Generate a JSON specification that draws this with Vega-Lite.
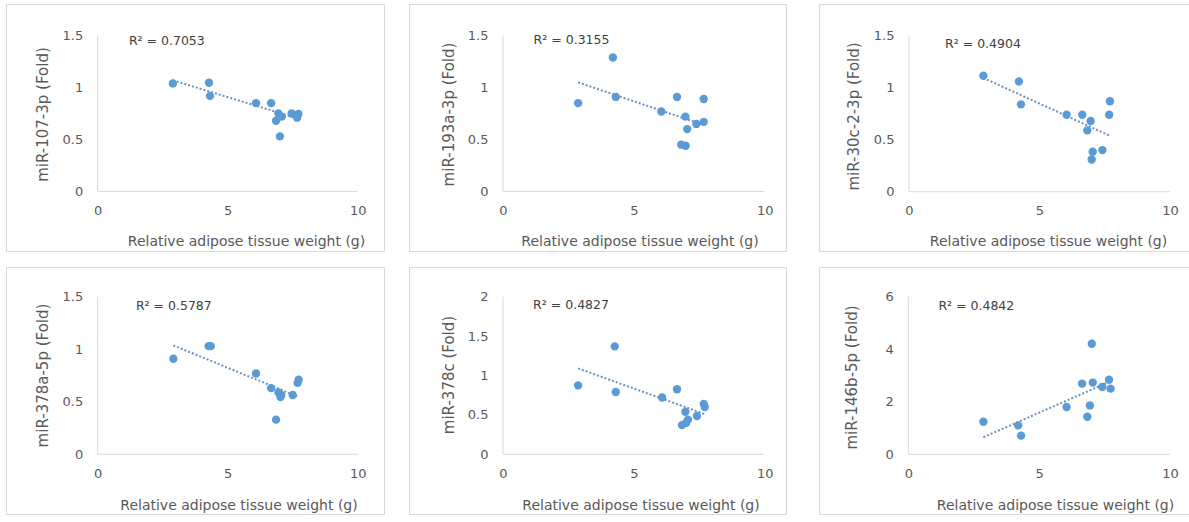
{
"$schema": "https://vega.github.io/schema/vega-lite/v6.json",
"padding": {"left": 5, "top": 3, "right": 0, "bottom": 0},
"background": "white",
"datasets": {
"d": [
{"p":"p1","k":"ax","x":0,"y":0,"x2":10,"y2":0},{"p":"p1","k":"ax","x":0,"y":0,"x2":0,"y2":1.5},
{"p":"p2","k":"ax","x":0,"y":0,"x2":10,"y2":0},{"p":"p2","k":"ax","x":0,"y":0,"x2":0,"y2":1.5},
{"p":"p3","k":"ax","x":0,"y":0,"x2":10,"y2":0},{"p":"p3","k":"ax","x":0,"y":0,"x2":0,"y2":1.5},
{"p":"p4","k":"ax","x":0,"y":0,"x2":10,"y2":0},{"p":"p4","k":"ax","x":0,"y":0,"x2":0,"y2":1.5},
{"p":"p5","k":"ax","x":0,"y":0,"x2":10,"y2":0},{"p":"p5","k":"ax","x":0,"y":0,"x2":0,"y2":2},
{"p":"p6","k":"ax","x":0,"y":0,"x2":10,"y2":0},{"p":"p6","k":"ax","x":0,"y":0,"x2":0,"y2":6},
{"p":"p1","k":"r2","x":1.2,"y":1.45,"t":"R² = 0.7053"},
{"p":"p2","k":"r2","x":1.17,"y":1.46,"t":"R² = 0.3155"},
{"p":"p3","k":"r2","x":1.38,"y":1.42,"t":"R² = 0.4904"},
{"p":"p4","k":"r2","x":1.47,"y":1.41,"t":"R² = 0.5787"},
{"p":"p5","k":"r2","x":1.15,"y":1.89,"t":"R² = 0.4827"},
{"p":"p6","k":"r2","x":1.15,"y":5.65,"t":"R² = 0.4842"},
{"p":"p1","k":"tr","x":2.89,"y":1.07},{"p":"p1","k":"tr","x":7.72,"y":0.70},
{"p":"p2","k":"tr","x":2.87,"y":1.05},{"p":"p2","k":"tr","x":7.67,"y":0.64},
{"p":"p3","k":"tr","x":2.85,"y":1.094},{"p":"p3","k":"tr","x":7.70,"y":0.538},
{"p":"p4","k":"tr","x":2.91,"y":1.037},{"p":"p4","k":"tr","x":7.73,"y":0.546},
{"p":"p5","k":"tr","x":2.87,"y":1.09},{"p":"p5","k":"tr","x":7.71,"y":0.51},
{"p":"p6","k":"tr","x":2.87,"y":0.65},{"p":"p6","k":"tr","x":7.73,"y":2.78},
{"p":"p1","k":"pt","x":2.89,"y":1.04},{"p":"p1","k":"pt","x":4.28,"y":1.047},{"p":"p1","k":"pt","x":4.32,"y":0.92},{"p":"p1","k":"pt","x":6.09,"y":0.85},{"p":"p1","k":"pt","x":6.67,"y":0.85},{"p":"p1","k":"pt","x":6.95,"y":0.75},{"p":"p1","k":"pt","x":6.86,"y":0.68},{"p":"p1","k":"pt","x":7.08,"y":0.72},{"p":"p1","k":"pt","x":7.01,"y":0.53},{"p":"p1","k":"pt","x":7.46,"y":0.75},{"p":"p1","k":"pt","x":7.72,"y":0.745},{"p":"p1","k":"pt","x":7.67,"y":0.71},
{"p":"p2","k":"pt","x":4.20,"y":1.29},{"p":"p2","k":"pt","x":2.87,"y":0.85},{"p":"p2","k":"pt","x":4.31,"y":0.91},{"p":"p2","k":"pt","x":6.65,"y":0.91},{"p":"p2","k":"pt","x":7.67,"y":0.89},{"p":"p2","k":"pt","x":6.05,"y":0.77},{"p":"p2","k":"pt","x":6.97,"y":0.72},{"p":"p2","k":"pt","x":7.04,"y":0.60},{"p":"p2","k":"pt","x":7.39,"y":0.65},{"p":"p2","k":"pt","x":7.67,"y":0.67},{"p":"p2","k":"pt","x":6.81,"y":0.45},{"p":"p2","k":"pt","x":6.98,"y":0.44},
{"p":"p3","k":"pt","x":2.85,"y":1.115},{"p":"p3","k":"pt","x":4.21,"y":1.06},{"p":"p3","k":"pt","x":4.29,"y":0.84},{"p":"p3","k":"pt","x":6.04,"y":0.74},{"p":"p3","k":"pt","x":6.64,"y":0.74},{"p":"p3","k":"pt","x":6.96,"y":0.68},{"p":"p3","k":"pt","x":6.83,"y":0.59},{"p":"p3","k":"pt","x":7.70,"y":0.87},{"p":"p3","k":"pt","x":7.67,"y":0.74},{"p":"p3","k":"pt","x":7.41,"y":0.40},{"p":"p3","k":"pt","x":7.04,"y":0.385},{"p":"p3","k":"pt","x":7.0,"y":0.31},
{"p":"p4","k":"pt","x":2.91,"y":0.91},{"p":"p4","k":"pt","x":4.27,"y":1.03},{"p":"p4","k":"pt","x":4.35,"y":1.03},{"p":"p4","k":"pt","x":6.09,"y":0.77},{"p":"p4","k":"pt","x":6.67,"y":0.63},{"p":"p4","k":"pt","x":6.95,"y":0.59},{"p":"p4","k":"pt","x":7.03,"y":0.545},{"p":"p4","k":"pt","x":7.06,"y":0.565},{"p":"p4","k":"pt","x":7.5,"y":0.565},{"p":"p4","k":"pt","x":7.73,"y":0.71},{"p":"p4","k":"pt","x":7.69,"y":0.68},{"p":"p4","k":"pt","x":6.86,"y":0.33},
{"p":"p5","k":"pt","x":4.27,"y":1.37},{"p":"p5","k":"pt","x":2.87,"y":0.875},{"p":"p5","k":"pt","x":4.31,"y":0.79},{"p":"p5","k":"pt","x":6.08,"y":0.72},{"p":"p5","k":"pt","x":6.65,"y":0.825},{"p":"p5","k":"pt","x":7.67,"y":0.64},{"p":"p5","k":"pt","x":7.71,"y":0.60},{"p":"p5","k":"pt","x":6.97,"y":0.54},{"p":"p5","k":"pt","x":7.41,"y":0.486},{"p":"p5","k":"pt","x":7.07,"y":0.44},{"p":"p5","k":"pt","x":7.0,"y":0.40},{"p":"p5","k":"pt","x":6.84,"y":0.37},
{"p":"p6","k":"pt","x":2.87,"y":1.24},{"p":"p6","k":"pt","x":4.20,"y":1.10},{"p":"p6","k":"pt","x":4.31,"y":0.71},{"p":"p6","k":"pt","x":6.05,"y":1.80},{"p":"p6","k":"pt","x":6.64,"y":2.69},{"p":"p6","k":"pt","x":7.01,"y":4.21},{"p":"p6","k":"pt","x":7.05,"y":2.73},{"p":"p6","k":"pt","x":6.94,"y":1.86},{"p":"p6","k":"pt","x":6.84,"y":1.43},{"p":"p6","k":"pt","x":7.41,"y":2.56},{"p":"p6","k":"pt","x":7.67,"y":2.84},{"p":"p6","k":"pt","x":7.73,"y":2.50}
]
},
"vconcat": [
{"hconcat": [
 {"hconcat": [
  {"width": 378, "height": 247, "data": {"name": "d"}, "transform": [{"filter": "datum.p == 'p1'"}],
   "encoding": {
    "x": {"field": "x", "type": "quantitative", "scale": {"domain": [-3.527, 11.012], "nice": false, "zero": false}, "axis": {"title": "Relative adipose tissue weight (g)", "values": [0,5,10], "offset": -59.6, "titleX": 240, "titleY": 50}},
    "y": {"field": "y", "type": "quantitative", "scale": {"domain": [-0.574, 1.805], "nice": false, "zero": false}, "axis": {"title": "miR-107-3p (Fold)", "values": [0,0.5,1,1.5], "format": "~g", "offset": -91.7, "titleX": -55, "titleY": 110}}},
   "layer": [
    {"transform": [{"filter": "datum.k == 'ax'"}], "mark": {"type": "rule", "color": "#d9d9d9", "strokeWidth": 1}, "encoding": {"x2": {"field": "x2"}, "y2": {"field": "y2"}}},
    {"transform": [{"filter": "datum.k == 'tr'"}], "mark": {"type": "line", "color": "#6a8fc0", "strokeDash": [2,2], "strokeWidth": 2}, "encoding": {}},
    {"transform": [{"filter": "datum.k == 'pt'"}], "mark": {"type": "circle", "color": "#5b9bd5", "opacity": 1, "size": 70}, "encoding": {}},
    {"transform": [{"filter": "datum.k == 'r2'"}], "mark": {"type": "text", "align": "left", "baseline": "middle", "fontSize": 12.5, "color": "#404040", "font": "DejaVu Sans"}, "encoding": {"text": {"field": "t"}}}
   ]},
  {"width": 377, "height": 247, "data": {"name": "d"}, "transform": [{"filter": "datum.p == 'p2'"}],
   "encoding": {
    "x": {"field": "x", "type": "quantitative", "scale": {"domain": [-3.592, 10.814], "nice": false, "zero": false}, "axis": {"title": "Relative adipose tissue weight (g)", "values": [0,5,10], "offset": -59.6, "titleX": 230.5, "titleY": 50}},
    "y": {"field": "y", "type": "quantitative", "scale": {"domain": [-0.574, 1.805], "nice": false, "zero": false}, "axis": {"title": "miR-193a-3p (Fold)", "values": [0,0.5,1,1.5], "format": "~g", "offset": -94, "titleX": -55, "titleY": 110}}},
   "layer": [
    {"transform": [{"filter": "datum.k == 'ax'"}], "mark": {"type": "rule", "color": "#d9d9d9", "strokeWidth": 1}, "encoding": {"x2": {"field": "x2"}, "y2": {"field": "y2"}}},
    {"transform": [{"filter": "datum.k == 'tr'"}], "mark": {"type": "line", "color": "#6a8fc0", "strokeDash": [2,2], "strokeWidth": 2}, "encoding": {}},
    {"transform": [{"filter": "datum.k == 'pt'"}], "mark": {"type": "circle", "color": "#5b9bd5", "opacity": 1, "size": 70}, "encoding": {}},
    {"transform": [{"filter": "datum.k == 'r2'"}], "mark": {"type": "text", "align": "left", "baseline": "middle", "fontSize": 12.5, "color": "#404040", "font": "DejaVu Sans"}, "encoding": {"text": {"field": "t"}}}
   ]}
 ], "spacing": 23},
 {"width": 373, "height": 247, "data": {"name": "d"}, "transform": [{"filter": "datum.p == 'p3'"}],
   "encoding": {
    "x": {"field": "x", "type": "quantitative", "scale": {"domain": [-3.448, 10.843], "nice": false, "zero": false}, "axis": {"title": "Relative adipose tissue weight (g)", "values": [0,5,10], "offset": -59.3, "titleX": 229, "titleY": 50}},
    "y": {"field": "y", "type": "quantitative", "scale": {"domain": [-0.570, 1.805], "nice": false, "zero": false}, "axis": {"title": "miR-30c-2-3p (Fold)", "values": [0,0.5,1,1.5], "format": "~g", "offset": -90, "titleX": -55.7, "titleY": 112}}},
   "layer": [
    {"transform": [{"filter": "datum.k == 'ax'"}], "mark": {"type": "rule", "color": "#d9d9d9", "strokeWidth": 1}, "encoding": {"x2": {"field": "x2"}, "y2": {"field": "y2"}}},
    {"transform": [{"filter": "datum.k == 'tr'"}], "mark": {"type": "line", "color": "#6a8fc0", "strokeDash": [2,2], "strokeWidth": 2}, "encoding": {}},
    {"transform": [{"filter": "datum.k == 'pt'"}], "mark": {"type": "circle", "color": "#5b9bd5", "opacity": 1, "size": 70}, "encoding": {}},
    {"transform": [{"filter": "datum.k == 'r2'"}], "mark": {"type": "text", "align": "left", "baseline": "middle", "fontSize": 12.5, "color": "#404040", "font": "DejaVu Sans"}, "encoding": {"text": {"field": "t"}}}
   ]}
], "spacing": 31},
{"hconcat": [
 {"hconcat": [
  {"width": 378, "height": 247, "data": {"name": "d"}, "transform": [{"filter": "datum.p == 'p4'"}],
   "encoding": {
    "x": {"field": "x", "type": "quantitative", "scale": {"domain": [-3.527, 11.012], "nice": false, "zero": false}, "axis": {"title": "Relative adipose tissue weight (g)", "values": [0,5,10], "offset": -59.7, "titleX": 232.5, "titleY": 51}},
    "y": {"field": "y", "type": "quantitative", "scale": {"domain": [-0.569, 1.784], "nice": false, "zero": false}, "axis": {"title": "miR-378a-5p (Fold)", "values": [0,0.5,1,1.5], "format": "~g", "offset": -91.7, "titleX": -55, "titleY": 108}}},
   "layer": [
    {"transform": [{"filter": "datum.k == 'ax'"}], "mark": {"type": "rule", "color": "#d9d9d9", "strokeWidth": 1}, "encoding": {"x2": {"field": "x2"}, "y2": {"field": "y2"}}},
    {"transform": [{"filter": "datum.k == 'tr'"}], "mark": {"type": "line", "color": "#6a8fc0", "strokeDash": [2,2], "strokeWidth": 2}, "encoding": {}},
    {"transform": [{"filter": "datum.k == 'pt'"}], "mark": {"type": "circle", "color": "#5b9bd5", "opacity": 1, "size": 70}, "encoding": {}},
    {"transform": [{"filter": "datum.k == 'r2'"}], "mark": {"type": "text", "align": "left", "baseline": "middle", "fontSize": 12.5, "color": "#404040", "font": "DejaVu Sans"}, "encoding": {"text": {"field": "t"}}}
   ]},
  {"width": 377, "height": 247, "data": {"name": "d"}, "transform": [{"filter": "datum.p == 'p5'"}],
   "encoding": {
    "x": {"field": "x", "type": "quantitative", "scale": {"domain": [-3.592, 10.814], "nice": false, "zero": false}, "axis": {"title": "Relative adipose tissue weight (g)", "values": [0,5,10], "offset": -59.7, "titleX": 231.5, "titleY": 51}},
    "y": {"field": "y", "type": "quantitative", "scale": {"domain": [-0.758, 2.377], "nice": false, "zero": false}, "axis": {"title": "miR-378c (Fold)", "values": [0,0.5,1,1.5,2], "format": "~g", "offset": -94, "titleX": -55, "titleY": 107.5}}},
   "layer": [
    {"transform": [{"filter": "datum.k == 'ax'"}], "mark": {"type": "rule", "color": "#d9d9d9", "strokeWidth": 1}, "encoding": {"x2": {"field": "x2"}, "y2": {"field": "y2"}}},
    {"transform": [{"filter": "datum.k == 'tr'"}], "mark": {"type": "line", "color": "#6a8fc0", "strokeDash": [2,2], "strokeWidth": 2}, "encoding": {}},
    {"transform": [{"filter": "datum.k == 'pt'"}], "mark": {"type": "circle", "color": "#5b9bd5", "opacity": 1, "size": 70}, "encoding": {}},
    {"transform": [{"filter": "datum.k == 'r2'"}], "mark": {"type": "text", "align": "left", "baseline": "middle", "fontSize": 12.5, "color": "#404040", "font": "DejaVu Sans"}, "encoding": {"text": {"field": "t"}}}
   ]}
 ], "spacing": 23},
 {"width": 373, "height": 247, "data": {"name": "d"}, "transform": [{"filter": "datum.p == 'p6'"}],
   "encoding": {
    "x": {"field": "x", "type": "quantitative", "scale": {"domain": [-3.412, 10.841], "nice": false, "zero": false}, "axis": {"title": "Relative adipose tissue weight (g)", "values": [0,5,10], "offset": -59.7, "titleX": 236, "titleY": 51}},
    "y": {"field": "y", "type": "quantitative", "scale": {"domain": [-2.273, 7.13], "nice": false, "zero": false}, "axis": {"title": "miR-146b-5p (Fold)", "values": [0,2,4,6], "format": "~g", "offset": -89.3, "titleX": -56.6, "titleY": 110}}},
   "layer": [
    {"transform": [{"filter": "datum.k == 'ax'"}], "mark": {"type": "rule", "color": "#d9d9d9", "strokeWidth": 1}, "encoding": {"x2": {"field": "x2"}, "y2": {"field": "y2"}}},
    {"transform": [{"filter": "datum.k == 'tr'"}], "mark": {"type": "line", "color": "#6a8fc0", "strokeDash": [2,2], "strokeWidth": 2}, "encoding": {}},
    {"transform": [{"filter": "datum.k == 'pt'"}], "mark": {"type": "circle", "color": "#5b9bd5", "opacity": 1, "size": 70}, "encoding": {}},
    {"transform": [{"filter": "datum.k == 'r2'"}], "mark": {"type": "text", "align": "left", "baseline": "middle", "fontSize": 12.5, "color": "#404040", "font": "DejaVu Sans"}, "encoding": {"text": {"field": "t"}}}
   ]}
], "spacing": 31}
],
"spacing": 14,
"config": {
 "view": {"stroke": "#d9d9d9", "strokeWidth": 1},
 "axis": {"domain": false, "ticks": false, "tickSize": 0, "grid": false, "labelFont": "DejaVu Sans", "labelFontSize": 13, "labelColor": "#595959", "titleFont": "DejaVu Sans", "titleFontSize": 14, "titleFontWeight": "normal", "titleColor": "#595959", "titleBaseline": "middle", "titleAlign": "center", "labelFlush": false, "labelOverlap": false},
 "axisX": {"labelPadding": 13},
 "axisY": {"labelPadding": 15, "titleFontSize": 15}
}
}
